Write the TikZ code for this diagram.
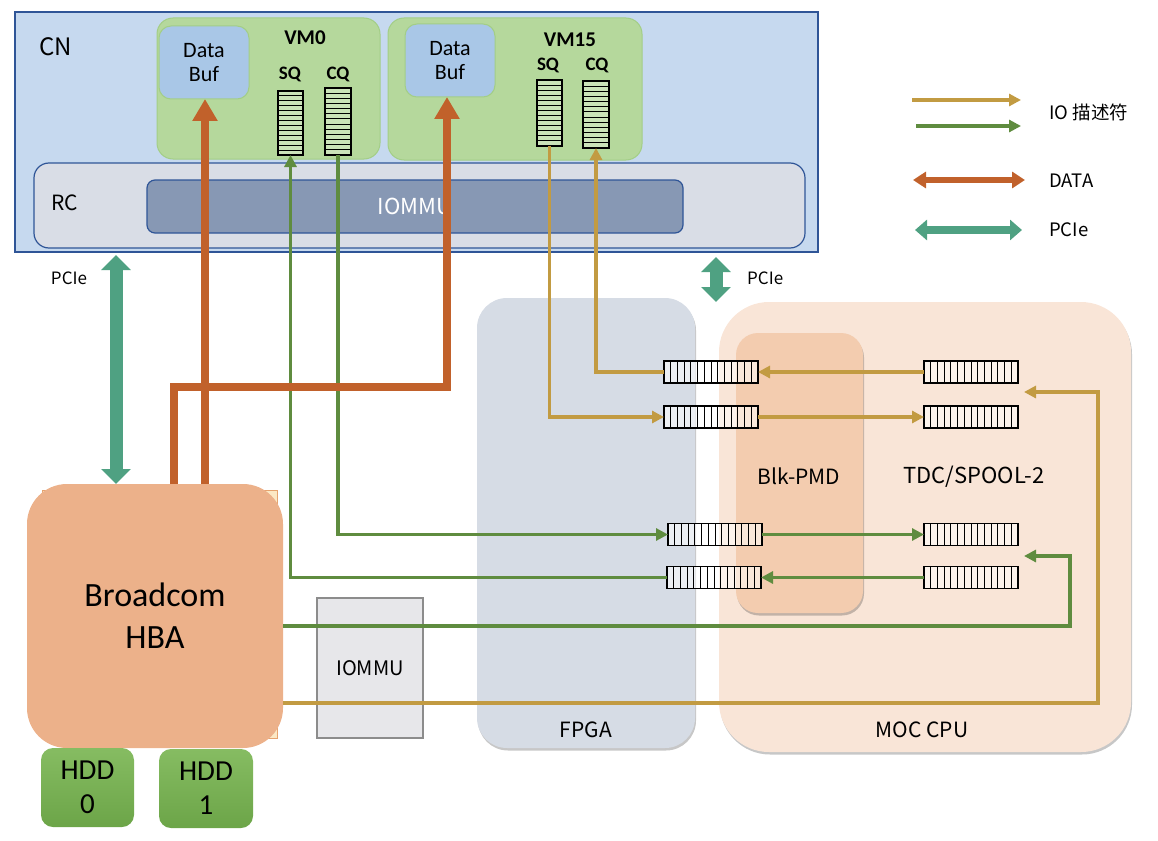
\documentclass[tikz,border=0pt]{standalone}
\usepackage{fontspec}
\setmainfont{Carlito}
\newfontfamily\pf{Noto Sans CJK SC}
\usetikzlibrary{arrows.meta,shadows,calc}
\definecolor{cnfill}{HTML}{C6D9EF}
\definecolor{cnline}{HTML}{2F5597}
\definecolor{vmfill}{HTML}{B5D89C}
\definecolor{vmline}{HTML}{A3CE86}
\definecolor{buffill}{HTML}{A9C7E7}
\definecolor{rcfill}{HTML}{D9DDE6}
\definecolor{iomfill}{HTML}{8798B4}
\definecolor{dataor}{HTML}{C1612B}
\definecolor{iogold}{HTML}{C29B42}
\definecolor{iogreen}{HTML}{5F8C3F}
\definecolor{pciecol}{HTML}{4FA182}
\definecolor{fpgafill}{HTML}{D6DCE5}
\definecolor{mocfill}{HTML}{F9E5D7}
\definecolor{pmdfill}{HTML}{F3CCAF}
\definecolor{hbafill}{HTML}{ECB18A}
\definecolor{hbaback}{HTML}{FCE8C4}
\definecolor{hbabackline}{HTML}{E5A36F}
\definecolor{hddtop}{HTML}{86BC62}
\definecolor{hddbot}{HTML}{6CA548}
\definecolor{smallfill}{HTML}{E7E7EA}
\newcommand{\fsz}[1]{\fontsize{#1}{#1}\selectfont}
\tikzset{
  box/.style={inner sep=0pt, outer sep=0pt},
  hq/.style={draw=black, line width=1.5pt, fill=white, fill opacity=0.55, text opacity=1,
    minimum width=94pt, minimum height=22pt, inner sep=0pt, outer sep=0pt,
    path picture={\foreach \i in {1,...,13}{\draw[line width=1pt, draw opacity=1]
      ($(path picture bounding box.south west)!\i/14!(path picture bounding box.south east)$) --
      ($(path picture bounding box.north west)!\i/14!(path picture bounding box.north east)$);}}},
  vq/.style={draw=black, line width=1.5pt, fill=white, fill opacity=0.3,
    minimum width=25pt, minimum height=66pt, inner sep=0pt, outer sep=0pt,
    path picture={\foreach \i in {1,...,12}{\draw[line width=1pt, draw opacity=1]
      ($(path picture bounding box.south west)!\i/13!(path picture bounding box.north west)$) --
      ($(path picture bounding box.south east)!\i/13!(path picture bounding box.north east)$);}}},
  goldline/.style={draw=iogold, line width=3.2pt, -{Triangle[length=12pt,width=12pt]}},
  greenline/.style={draw=iogreen, line width=3.2pt, -{Triangle[length=12pt,width=12pt]}},
  dataline/.style={draw=dataor, line width=8pt, line join=miter, -{Triangle[length=22pt,width=24pt]}},
  pcieline/.style={draw=pciecol, line width=13pt, {Triangle[length=15pt,width=29pt]}-{Triangle[length=15pt,width=29pt]}},
  lbl/.style={inner sep=0pt, font=\pf\fsz{21}},
  hdd/.style={box, top color=hddtop, bottom color=hddbot, rounded corners=12pt, minimum width=93pt, minimum height=79pt, align=center, font=\fsz{29}},
  shd/.style={drop shadow={shadow xshift=1pt, shadow yshift=-2.5pt, opacity=0.22, fill=black}}
}
\begin{document}
\begin{tikzpicture}[x=1pt,y=-1pt]
\useasboundingbox (0,0) rectangle (1158,840);
% ---------- CN ----------
\node[box, draw=cnline, line width=1.3pt, fill=cnfill, minimum width=803pt, minimum height=240pt] (CN) at (416.5,132) {};
\node[lbl, anchor=west, font=\pf\fsz{24}] (cnl) at (39,47) {CN};
\node[box, draw=vmline, line width=1pt, fill=vmfill, rounded corners=16pt, minimum width=223pt, minimum height=141pt] (VM0) at (268.5,88.5) {};
\node[box, draw=vmline, line width=1pt, fill=vmfill, rounded corners=16pt, minimum width=254pt, minimum height=142pt] (VM15) at (515,89) {};
\node[box, draw=vmline, line width=1pt, fill=buffill, rounded corners=12pt, minimum width=90pt, minimum height=73pt, align=center, font=\fsz{22}] (buf0) at (204,62.5) {Data\\[2pt]Buf};
\node[box, draw=vmline, line width=1pt, fill=buffill, rounded corners=12pt, minimum width=90pt, minimum height=73pt, align=center, font=\fsz{22}] (buf15) at (450,60.5) {Data\\[2pt]Buf};
\node[inner sep=0pt, font=\bfseries\fsz{21}] (vm0l) at (305,38) {VM0};
\node[inner sep=0pt, font=\bfseries\fsz{19}] (sq0l) at (290,74) {SQ};
\node[inner sep=0pt, font=\bfseries\fsz{19}] (cq0l) at (338,74) {CQ};
\node[inner sep=0pt, font=\bfseries\fsz{21}] (vm15l) at (570,40) {VM15};
\node[inner sep=0pt, font=\bfseries\fsz{19}] (sq15l) at (548,65) {SQ};
\node[inner sep=0pt, font=\bfseries\fsz{19}] (cq15l) at (597,65) {CQ};
\node[vq, minimum height=64pt] (SQ0) at (290.5,123) {};
\node[vq, minimum height=67pt, minimum width=26pt] (CQ0) at (338,121.5) {};
\node[vq] (SQ15) at (549.5,113) {};
\node[vq, minimum height=67pt, minimum width=26pt] (CQ15) at (596,114.5) {};
% ---------- RC ----------
\node[box, draw=cnline, line width=1.2pt, fill=rcfill, rounded corners=15pt, minimum width=771pt, minimum height=85pt] (RC) at (419.5,205.5) {};
\node[lbl, anchor=west, font=\pf\fsz{21}] (rcl) at (51,203) {RC};
\node[box, draw=cnline, line width=1.2pt, fill=iomfill, rounded corners=8pt, minimum width=536pt, minimum height=53pt, text=white, font=\pf\fsz{22}] (IOMMU) at (415,206.5) {IOMMU};
% ---------- FPGA / MOC ----------
\node[box, fill=fpgafill, rounded corners=30pt, minimum width=218pt, minimum height=450pt, shd] (FPGA) at (586,523) {};
\node[lbl] (fpgal) at (586,730) {FPGA};
\node[box, fill=mocfill, rounded corners=50pt, minimum width=412pt, minimum height=450pt, shd] (MOC) at (925,527) {};
\node[lbl] (mocl) at (922,730) {MOC CPU};
\node[box, fill=pmdfill, rounded corners=22pt, minimum width=127pt, minimum height=280pt, shd] (PMD) at (799.5,473) {};
\node[lbl] (pmdl) at (799,476) {Blk-PMD};
\node[lbl, font=\pf\fsz{22}] (tdcl) at (974,477) {TDC/SPOOL-2};
% ---------- queues ----------
\node[hq] (QA) at (711,372) {};
\node[hq] (QB) at (711,417) {};
\node[hq] (QC) at (971,372) {};
\node[hq] (QD) at (971,417) {};
\node[hq] (QE) at (715,534.5) {};
\node[hq] (QF) at (714,577.5) {};
\node[hq] (QG) at (971,534.5) {};
\node[hq] (QH) at (971,577.5) {};
% ---------- small IOMMU ----------
\node[box, draw=black!45, line width=1.5pt, fill=smallfill, minimum width=106pt, minimum height=140pt, font=\pf\fsz{20}] (IOM2) at (370,668) {IOMMU};
% ---------- HBA ----------
\node[box, draw=hbabackline, line width=1pt, fill=hbaback, minimum width=235pt, minimum height=248pt] (HBAB) at (159.5,614) {};
\node[box, fill=hbafill, rounded corners=40pt, minimum width=256pt, minimum height=264pt, align=center, font=\fsz{34}] (HBA) at (155,616) {Broadcom\\[8pt]HBA};
\node[hdd] (HDD0) at (87.5,787.5) {HDD\\[5pt]0};
\node[hdd, minimum width=94pt] (HDD1) at (206,788.5) {HDD\\[5pt]1};
% ---------- IO descriptor lines ----------
\draw[goldline] (QA.west) -| (CQ15.south);
\draw[goldline] (SQ15.south) |- (QB.west);
\draw[goldline] (QC.west) -- (QA.east);
\draw[goldline] (QB.east) -- (QD.west);
\draw[greenline] (CQ0.south) |- (QE.west);
\draw[greenline] (QF.west) -| (SQ0.south);
\draw[greenline] (QE.east) -- (QG.west);
\draw[greenline] (QH.west) -- (QF.east);
\coordinate (gtip) at (1024,556);
\coordinate (ytip) at (1024,392);
\draw[greenline] ($(HBA.east)+(0,10)$) -| ($(gtip)+(46,0)$) -- (gtip);
\draw[goldline] ($(HBA.east)+(0,87)$) -| ($(ytip)+(74,0)$) -- (ytip);
% ---------- DATA ----------
\coordinate (o1) at ($(HBA.north)+(50,0)$);
\draw[dataline] (o1) -- (o1 |- buf0.south);
\coordinate (o2) at ($(HBA.north)+(19,0)$);
\coordinate (oturn) at (447,387);
\draw[dataline] (o2) |- (oturn) -- (oturn |- buf15.south);
% ---------- PCIe ----------
\coordinate (pl) at (116,255);
\draw[pcieline] (pl) -- (pl |- HBA.north);
\node[lbl, font=\pf\fsz{17}] (pcl) at (69,278) {PCIe};
\coordinate (pr) at (716,257);
\draw[pcieline] (pr) -- (pr |- MOC.north);
\node[lbl, anchor=west, font=\pf\fsz{17}] (prl) at (747,278) {PCIe};
% ---------- legend ----------
\coordinate (lg1a) at (912,100); \coordinate (lg1b) at (1021,100);
\coordinate (lg2a) at (916,126); \coordinate (lg2b) at (1021,126);
\draw[goldline] (lg1a) -- (lg1b);
\draw[greenline] (lg2a) -- (lg2b);
\node[lbl, anchor=west, font=\pf\fsz{18.5}] (lgio) at (1049,112) {IO 描述符};
\coordinate (lg3a) at (913,180); \coordinate (lg3b) at (1025,180);
\draw[draw=dataor, line width=6pt, {Triangle[length=13pt,width=16pt]}-{Triangle[length=13pt,width=16pt]}] (lg3a) -- (lg3b);
\node[lbl, anchor=west, font=\pf\fsz{18.5}] (lgdata) at (1049,181) {DATA};
\coordinate (lg4a) at (915,230); \coordinate (lg4b) at (1022,230);
\draw[draw=pciecol, line width=8pt, {Triangle[length=12pt,width=20pt]}-{Triangle[length=12pt,width=20pt]}] (lg4a) -- (lg4b);
\node[lbl, anchor=west, font=\pf\fsz{18.5}] (lgpcie) at (1049,230) {PCIe};
\end{tikzpicture}
\end{document}
